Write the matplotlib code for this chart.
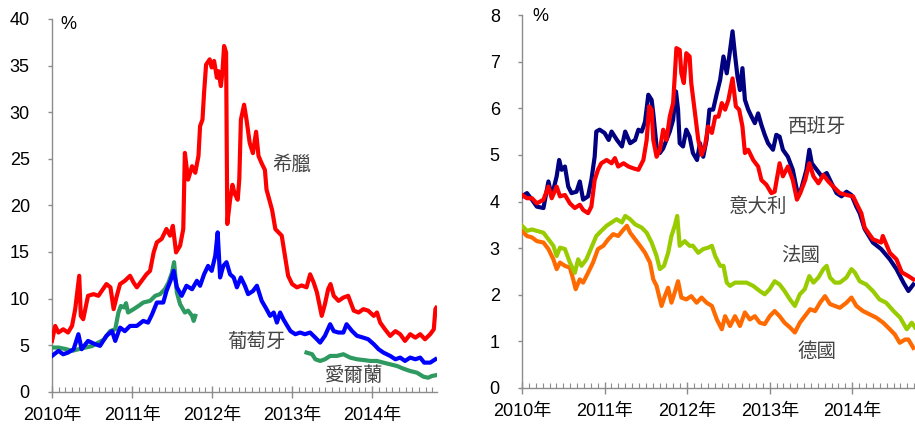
import numpy as np
import matplotlib
matplotlib.use("Agg")
import matplotlib.pyplot as plt
from matplotlib.ticker import FixedLocator

plt.rcParams['font.family'] = ['Liberation Sans', 'Noto Sans CJK TC', 'DejaVu Sans']

# ---------------- Left panel data (year fraction, % yield) ----------------
greece_t = [2010.00, 2010.04, 2010.08, 2010.14, 2010.20, 2010.25, 2010.29, 2010.34, 2010.36, 2010.39,
            2010.45, 2010.52, 2010.58, 2010.62, 2010.68, 2010.73, 2010.77, 2010.81, 2010.85, 2010.91,
            2010.975, 2011.02, 2011.06, 2011.12, 2011.18, 2011.225, 2011.27, 2011.31, 2011.37, 2011.43,
            2011.475, 2011.51, 2011.55, 2011.60, 2011.64, 2011.66, 2011.70, 2011.75, 2011.79, 2011.83,
            2011.85, 2011.88, 2011.90, 2011.925, 2011.97, 2011.995, 2012.025, 2012.06, 2012.08, 2012.11,
            2012.13, 2012.15, 2012.175, 2012.19, 2012.225, 2012.255, 2012.28, 2012.32, 2012.34, 2012.36,
            2012.40, 2012.43, 2012.47, 2012.51, 2012.55, 2012.58, 2012.62, 2012.66, 2012.68, 2012.75,
            2012.79, 2012.83, 2012.87, 2012.91, 2012.95, 2013.00, 2013.06, 2013.12, 2013.18, 2013.225,
            2013.27, 2013.31, 2013.34, 2013.37, 2013.41, 2013.45, 2013.48, 2013.52, 2013.58, 2013.64,
            2013.70, 2013.77, 2013.83, 2013.89, 2013.95, 2014.02, 2014.06, 2014.10, 2014.16, 2014.225,
            2014.29, 2014.35, 2014.41, 2014.475, 2014.54, 2014.60, 2014.66, 2014.725, 2014.77, 2014.79,
            2014.80]
greece_v = [5.45, 7.06, 6.35, 6.7, 6.35, 7.06, 8.86, 12.44, 8.14, 7.78,
            10.29, 10.47, 10.29, 10.8, 11.55, 11.2, 8.86, 10.29, 11.55, 11.9,
            12.44, 11.7, 11.2, 11.9, 12.6, 12.97, 14.95, 16.03, 16.4, 17.46,
            16.75, 17.8, 14.95, 15.67, 17.46, 25.63, 22.76, 24.2, 23.5, 25.3,
            28.5, 29.2, 32.1, 35.1, 35.67, 34.8, 35.5, 33.7, 34.4, 32.8,
            34.4, 37.1, 36.4, 18.0, 20.6, 22.2, 21.3, 20.6, 22.8, 29.2,
            30.8, 29.2, 26.7, 25.6, 27.9, 25.3, 24.5, 23.8, 21.7, 19.5,
            17.46, 17.1, 16.75, 14.6, 12.44, 11.55, 11.2, 11.4, 11.2, 12.6,
            11.7, 10.65, 9.4, 8.14, 9.4, 11.0, 11.55, 10.29, 9.75, 10.1,
            10.29, 8.7, 8.5, 8.86, 8.7, 8.14, 8.5, 7.42, 6.7, 5.99,
            6.5, 6.17, 5.45, 6.17, 5.8, 6.17, 5.63, 6.17, 6.7, 8.86,
            9.0]

portugal_t = [2010.00, 2010.08, 2010.14, 2010.20, 2010.27, 2010.33, 2010.37, 2010.45, 2010.54, 2010.60,
              2010.68, 2010.75, 2010.79, 2010.85, 2010.91, 2010.975, 2011.06, 2011.14, 2011.20, 2011.25,
              2011.31, 2011.39, 2011.43, 2011.48, 2011.52, 2011.56, 2011.62, 2011.68, 2011.75, 2011.81,
              2011.85, 2011.90, 2011.95, 2011.995, 2012.04, 2012.07, 2012.10, 2012.14, 2012.18, 2012.225,
              2012.27, 2012.31, 2012.36, 2012.41, 2012.45, 2012.51, 2012.56, 2012.62, 2012.68, 2012.725,
              2012.77, 2012.81, 2012.85, 2012.89, 2012.94, 2012.98, 2013.04, 2013.10, 2013.16, 2013.225,
              2013.29, 2013.35, 2013.41, 2013.475, 2013.52, 2013.58, 2013.64, 2013.68, 2013.75, 2013.81,
              2013.89, 2013.95, 2014.02, 2014.08, 2014.14, 2014.225, 2014.29, 2014.35, 2014.41, 2014.475,
              2014.54, 2014.60, 2014.65, 2014.725, 2014.79]
portugal_v = [3.84, 4.38, 4.02, 4.2, 4.56, 6.17, 4.56, 5.45, 5.1, 4.92,
              6.0, 6.5, 5.45, 6.88, 6.5, 7.06, 7.06, 7.6, 7.42, 8.3,
              9.57, 9.57, 10.8, 11.9, 12.97, 11.2, 10.29, 11.37, 11.0, 11.9,
              11.37, 12.6, 13.5, 12.97, 14.6, 17.1, 12.26, 13.5, 13.9, 12.6,
              12.26, 11.2, 12.26, 11.37, 10.47, 10.8, 11.37, 9.75, 8.86, 8.14,
              8.5, 7.42, 8.5, 7.78, 7.06, 6.5, 6.17, 6.35, 6.17, 6.35,
              5.8, 5.27, 6.0, 7.24, 6.5, 6.35, 6.35, 7.24, 6.5, 6.0,
              5.8, 5.63, 5.1, 4.56, 4.2, 3.84, 3.48, 3.66, 3.3, 3.66,
              3.48, 3.66, 3.12, 3.12, 3.48]

ireland_t = [2010.00, 2010.08, 2010.18, 2010.25, 2010.35, 2010.50, 2010.65, 2010.725, 2010.79, 2010.83,
             2010.86, 2010.90, 2010.925, 2010.95, 2011.02, 2011.08, 2011.14, 2011.225, 2011.29, 2011.35,
             2011.41, 2011.455, 2011.50, 2011.525, 2011.56, 2011.60, 2011.66, 2011.70, 2011.75, 2011.77,
             2011.79, 2012.50,
             2013.18, 2013.25, 2013.29, 2013.35, 2013.41, 2013.475, 2013.56, 2013.64, 2013.725, 2013.81,
             2013.89, 2013.975, 2014.06, 2014.14, 2014.225, 2014.31, 2014.39, 2014.475, 2014.56, 2014.64,
             2014.70, 2014.745, 2014.79]
ireland_v = [4.74, 4.74, 4.56, 4.38, 4.6, 4.9, 5.6, 6.5, 6.7, 8.5,
             9.2, 9.04, 9.5, 8.5, 8.86, 9.2, 9.57, 9.75, 10.29, 10.47,
             11.0, 11.7, 12.8, 13.9, 10.65, 9.4, 8.5, 8.7, 8.14, 7.6,
             8.14, np.nan,
             4.2, 4.02, 3.48, 3.3, 3.48, 3.84, 3.84, 4.02, 3.66, 3.48,
             3.4, 3.3, 3.3, 3.12, 2.94, 2.76, 2.47, 2.22, 2.04, 1.61,
             1.5, 1.68, 1.76]

# ---------------- Right panel data ----------------
spain_t = [2010.00, 2010.06, 2010.12, 2010.18, 2010.26, 2010.32, 2010.36, 2010.42, 2010.45, 2010.48,
           2010.52, 2010.56, 2010.60, 2010.66, 2010.70, 2010.74, 2010.80, 2010.84, 2010.88, 2010.90,
           2010.94, 2011.00, 2011.05, 2011.085, 2011.15, 2011.21, 2011.25, 2011.31, 2011.37, 2011.41,
           2011.45, 2011.49, 2011.53, 2011.57, 2011.59, 2011.63, 2011.67, 2011.71, 2011.75, 2011.79,
           2011.83, 2011.865, 2011.89, 2011.91, 2011.95, 2011.99, 2012.03, 2012.07, 2012.12, 2012.155,
           2012.195, 2012.235, 2012.27, 2012.315, 2012.36, 2012.40, 2012.44, 2012.48, 2012.51, 2012.55,
           2012.58, 2012.61, 2012.64, 2012.67, 2012.70, 2012.74, 2012.78, 2012.82, 2012.86, 2012.90,
           2012.94, 2012.98, 2013.04, 2013.08, 2013.12, 2013.16, 2013.22, 2013.28, 2013.345, 2013.385,
           2013.445, 2013.48, 2013.51, 2013.57, 2013.63, 2013.69, 2013.75, 2013.81, 2013.87, 2013.93,
           2013.99, 2014.05, 2014.09, 2014.15, 2014.25, 2014.35, 2014.455, 2014.535, 2014.62, 2014.68,
           2014.74]
spain_v = [4.11, 4.18, 4.04, 3.89, 3.86, 4.43, 4.11, 4.54, 4.89, 4.68,
           4.75, 4.32, 4.18, 4.21, 4.43, 4.04, 4.11, 4.46, 4.96, 5.5,
           5.54, 5.47, 5.32, 5.5, 5.32, 5.18, 5.5, 5.25, 5.32, 5.54,
           5.5, 5.71, 6.29, 6.18, 5.89, 5.18, 5.04, 5.14, 5.32, 5.5,
           5.75, 6.36, 5.97, 5.25, 5.18, 5.54, 5.39, 5.04, 4.89, 5.25,
           4.96, 5.32, 5.97, 5.97, 6.32, 6.61, 7.11, 6.75, 7.11, 7.65,
           7.14, 6.68, 6.39, 6.86, 6.18, 5.97, 5.82, 5.68, 5.89, 5.64,
           5.43, 5.25, 5.11, 5.43, 5.39, 5.11, 4.96, 4.68, 4.11, 4.29,
           4.68, 5.11, 4.82, 4.68, 4.54, 4.61, 4.39, 4.18, 4.11, 4.21,
           4.14, 3.89, 3.75, 3.41, 3.12, 2.98, 2.76, 2.55, 2.26, 2.08,
           2.22]

italy_t = [2010.00, 2010.06, 2010.12, 2010.18, 2010.26, 2010.32, 2010.36, 2010.42, 2010.46, 2010.52,
           2010.58, 2010.64, 2010.70, 2010.74, 2010.80, 2010.84, 2010.88, 2010.92, 2010.96, 2011.025,
           2011.085, 2011.125, 2011.165, 2011.23, 2011.29, 2011.35, 2011.41, 2011.47, 2011.51, 2011.54,
           2011.57, 2011.59, 2011.63, 2011.67, 2011.71, 2011.75, 2011.79, 2011.83, 2011.85, 2011.87,
           2011.91, 2011.93, 2011.96, 2011.99, 2012.03, 2012.05, 2012.09, 2012.135, 2012.175, 2012.215,
           2012.255, 2012.30, 2012.34, 2012.38, 2012.42, 2012.46, 2012.50, 2012.55, 2012.59, 2012.63,
           2012.67, 2012.70, 2012.74, 2012.80, 2012.86, 2012.90, 2012.96, 2013.02, 2013.06, 2013.12,
           2013.16, 2013.22, 2013.28, 2013.33, 2013.37, 2013.43, 2013.48, 2013.53, 2013.59, 2013.65,
           2013.71, 2013.77, 2013.85, 2013.93, 2014.01, 2014.07, 2014.11, 2014.15, 2014.25, 2014.35,
           2014.37, 2014.455, 2014.535, 2014.60, 2014.68, 2014.74]
italy_v = [4.14, 4.07, 4.07, 3.96, 4.04, 4.32, 4.07, 4.32, 4.11, 4.14,
           3.96, 3.86, 3.93, 3.82, 3.75, 3.89, 4.46, 4.68, 4.82, 4.89,
           4.82, 4.93, 4.75, 4.82, 4.75, 4.71, 4.68, 4.89, 5.32, 6.04,
           5.97, 5.32, 4.96, 5.11, 5.54, 5.32, 5.82, 6.11, 6.68, 7.29,
           7.25, 6.75, 6.54, 7.18, 7.11, 6.54, 5.97, 5.32, 5.0, 5.18,
           5.61, 5.47, 5.82, 5.82, 6.11, 5.97, 6.18, 6.64, 6.04, 5.97,
           5.61, 5.04, 5.11, 4.89, 4.75, 4.46, 4.36, 4.18, 4.21, 4.82,
           4.54, 4.75, 4.46, 4.04, 4.18, 4.46, 4.82, 4.54, 4.39, 4.57,
           4.43, 4.32, 4.18, 4.14, 4.11, 3.89, 3.75, 3.44, 3.19, 3.12,
           3.26, 2.9, 2.76, 2.48, 2.4, 2.33]

france_t = [2010.00, 2010.06, 2010.12, 2010.18, 2010.26, 2010.32, 2010.38, 2010.42, 2010.46, 2010.52,
            2010.58, 2010.64, 2010.68, 2010.72, 2010.78, 2010.84, 2010.90, 2010.96, 2011.025, 2011.085,
            2011.145, 2011.21, 2011.25, 2011.31, 2011.37, 2011.45, 2011.51, 2011.57, 2011.63, 2011.67,
            2011.72, 2011.77, 2011.81, 2011.85, 2011.88, 2011.91, 2011.97, 2012.03, 2012.07, 2012.135,
            2012.195, 2012.255, 2012.30, 2012.34, 2012.40, 2012.44, 2012.48, 2012.52, 2012.58, 2012.64,
            2012.72, 2012.80, 2012.88, 2012.94, 2013.00, 2013.06, 2013.12, 2013.18, 2013.245, 2013.305,
            2013.365, 2013.425, 2013.48, 2013.53, 2013.59, 2013.65, 2013.69, 2013.73, 2013.79, 2013.85,
            2013.93, 2013.99, 2014.03, 2014.09, 2014.17, 2014.25, 2014.33, 2014.41, 2014.50, 2014.58,
            2014.66, 2014.72, 2014.76]
france_v = [3.48, 3.37, 3.4, 3.37, 3.33, 3.19, 3.05, 2.83, 3.01, 2.98,
            2.69, 2.47, 2.76, 2.62, 2.76, 3.01, 3.26, 3.37, 3.48, 3.55,
            3.62, 3.55, 3.69, 3.62, 3.51, 3.44, 3.33, 3.12, 2.83, 2.55,
            2.62, 2.9, 3.26, 3.48, 3.69, 3.05, 3.15, 3.05, 3.05, 2.9,
            2.98, 3.01, 3.05, 2.83, 2.62, 2.62, 2.26, 2.19, 2.26, 2.26,
            2.26, 2.19, 2.08, 2.01, 2.12, 2.29, 2.22, 2.08, 1.9, 1.76,
            2.01, 2.12, 2.4, 2.26, 2.37, 2.55, 2.62, 2.37, 2.26, 2.26,
            2.37, 2.55, 2.48, 2.29, 2.22, 2.08, 1.9, 1.83, 1.65, 1.51,
            1.26, 1.4, 1.3]

germany_t = [2010.00, 2010.06, 2010.12, 2010.18, 2010.26, 2010.32, 2010.38, 2010.42, 2010.46, 2010.52,
             2010.58, 2010.62, 2010.65, 2010.70, 2010.74, 2010.80, 2010.86, 2010.92, 2010.985, 2011.045,
             2011.105, 2011.165, 2011.23, 2011.27, 2011.31, 2011.37, 2011.43, 2011.49, 2011.55, 2011.59,
             2011.63, 2011.69, 2011.73, 2011.77, 2011.81, 2011.85, 2011.89, 2011.93, 2011.99, 2012.05,
             2012.115, 2012.175, 2012.235, 2012.30, 2012.36, 2012.42, 2012.46, 2012.52, 2012.58, 2012.64,
             2012.70, 2012.76, 2012.82, 2012.88, 2012.94, 2013.00, 2013.06, 2013.12, 2013.18, 2013.245,
             2013.305, 2013.365, 2013.425, 2013.49, 2013.55, 2013.61, 2013.67, 2013.73, 2013.79, 2013.85,
             2013.93, 2013.99, 2014.05, 2014.13, 2014.21, 2014.29, 2014.375, 2014.455, 2014.515, 2014.575,
             2014.64, 2014.68, 2014.74]
germany_v = [3.37, 3.26, 3.23, 3.15, 3.12, 2.98, 2.76, 2.55, 2.69, 2.62,
             2.58, 2.33, 2.12, 2.33, 2.26, 2.47, 2.69, 2.98, 3.05, 3.19,
             3.3, 3.26, 3.4, 3.48, 3.33, 3.19, 3.05, 2.9, 2.69, 2.33,
             2.19, 1.76, 1.97, 2.15, 1.83, 2.05, 2.29, 1.94, 1.9, 1.97,
             1.83, 1.94, 1.83, 1.76, 1.47, 1.26, 1.54, 1.33, 1.54, 1.33,
             1.62, 1.47, 1.54, 1.4, 1.37, 1.54, 1.65, 1.54, 1.4, 1.3,
             1.19, 1.4, 1.54, 1.69, 1.65, 1.83, 1.97, 1.8, 1.76, 1.72,
             1.83, 1.94, 1.76, 1.65, 1.58, 1.51, 1.4, 1.26, 1.15, 0.97,
             1.04, 1.04, 0.86]

years = [2010, 2011, 2012, 2013, 2014]
year_labels = ['2010年', '2011年', '2012年', '2013年', '2014年']
left_yticks = [0, 5, 10, 15, 20, 25, 30, 35, 40]
right_yticks = [0, 1, 2, 3, 4, 5, 6, 7, 8]

label_color = '#444444'
spine_color = '#8c8c8c'
LW = 3.0
TICK_FS = 13
LABEL_FS = 14

fig = plt.figure(figsize=(9.15, 4.32), dpi=100)
axL = fig.add_axes([52/915, 1 - 391.7/432, (437-52)/915, (391.7-19)/432])
axR = fig.add_axes([522/915, 1 - 388/432, (915-522)/915, (388-15)/432])


def style(ax, ymax, yticks, xmax):
    for s in ['top', 'right']:
        ax.spines[s].set_visible(False)
    for s in ['left', 'bottom']:
        ax.spines[s].set_color(spine_color)
        ax.spines[s].set_linewidth(1.0)
    ax.set_xlim(2010, xmax)
    ax.set_ylim(0, ymax)
    ax.set_yticks(yticks)
    ax.set_xticks(years)
    ax.set_xticklabels(year_labels)
    ax.xaxis.set_minor_locator(FixedLocator([y + m / 12 for y in range(2010, 2015) for m in range(1, 12)
                                             if y + m / 12 < xmax]))
    ax.tick_params(axis='x', which='major', direction='inout', length=8, width=1,
                   color=spine_color, labelsize=TICK_FS, pad=7)
    ax.tick_params(axis='x', which='minor', direction='in', length=3.5, width=0.8,
                   color=spine_color)
    ax.tick_params(axis='y', which='major', direction='out', length=3, width=1,
                   color=spine_color, labelsize=TICK_FS, pad=13)
    ax.set_facecolor('white')


style(axL, 40, left_yticks, 2014.81)
style(axR, 8, right_yticks, 2014.76)

# left panel
axL.plot(greece_t, greece_v, color='#ff0000', lw=LW, solid_joinstyle='round', zorder=3)
axL.plot(ireland_t, ireland_v, color='#2e9960', lw=LW, solid_joinstyle='round', zorder=4)
axL.plot(portugal_t, portugal_v, color='#0000ff', lw=LW, solid_joinstyle='round', zorder=5)
axL.text(2010.10, 39.4, '%', fontsize=TICK_FS, ha='left', va='center')
axL.text(2013.00, 24.4, '希臘', fontsize=LABEL_FS, color=label_color, ha='center', va='center')
axL.text(2012.56, 5.3, '葡萄牙', fontsize=LABEL_FS, color=label_color, ha='center', va='center')
axL.text(2013.78, 1.7, '愛爾蘭', fontsize=LABEL_FS, color=label_color, ha='center', va='center')

# right panel
axR.plot(germany_t, germany_v, color='#ff6a00', lw=LW, solid_joinstyle='round', zorder=3)
axR.plot(france_t, france_v, color='#99cc00', lw=LW, solid_joinstyle='round', zorder=4)
axR.plot(spain_t, spain_v, color='#000080', lw=LW, solid_joinstyle='round', zorder=5)
axR.plot(italy_t, italy_v, color='#ff0000', lw=LW, solid_joinstyle='round', zorder=6)
axR.text(2010.12, 7.97, '%', fontsize=TICK_FS, ha='left', va='center')
axR.text(2013.57, 5.6, '西班牙', fontsize=LABEL_FS, color=label_color, ha='center', va='center')
axR.text(2012.86, 3.88, '意大利', fontsize=LABEL_FS, color=label_color, ha='center', va='center')
axR.text(2013.38, 2.83, '法國', fontsize=LABEL_FS, color=label_color, ha='center', va='center')
axR.text(2013.57, 0.78, '德國', fontsize=LABEL_FS, color=label_color, ha='center', va='center')

fig.savefig('out.png', dpi=100, facecolor='white')
